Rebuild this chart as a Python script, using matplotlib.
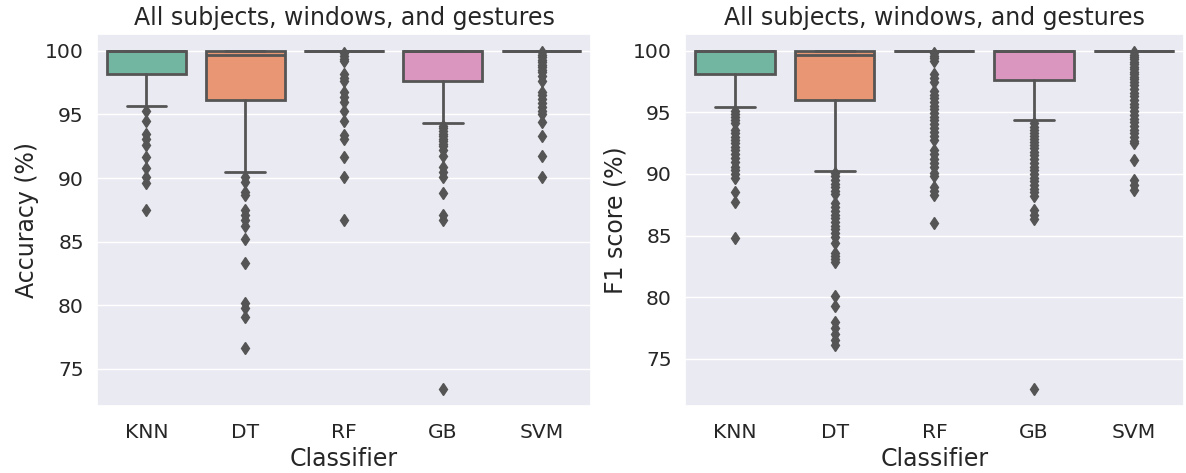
import matplotlib
matplotlib.use("Agg")
import matplotlib.pyplot as plt
import seaborn as sns

sns.set_theme(style="darkgrid")
plt.rcParams['font.family'] = ['DejaVu Sans']

classifiers = ['KNN', 'DT', 'RF', 'GB', 'SVM']

# box summaries per classifier: lower whisker, q1, median, q3, upper whisker
acc_whislo = [95.7, 90.5, 100.0, 94.3, 100.0]
acc_q1 = [98.15, 96.15, 100.0, 97.65, 100.0]
acc_med = [100.0, 99.65, 100.0, 100.0, 100.0]
acc_q3 = [100.0, 100.0, 100.0, 100.0, 100.0]
acc_whishi = [100.0, 100.0, 100.0, 100.0, 100.0]
acc_fliers = [
    [95.25, 94.5, 93.5, 93.1, 92.6, 91.65, 90.8, 90.1, 89.6, 87.5],
    [90.1, 89.7, 88.9, 88.65, 87.5, 87.1, 86.7, 86.2, 85.2, 83.35, 80.15, 79.8, 79.1, 76.65],
    [99.8, 99.6, 99.4, 99.2, 98.2, 97.9, 97.65, 96.75, 96.35, 95.95, 95.3, 94.5, 93.35, 93.1,
     91.65, 90.1, 86.7],
    [94.1, 93.9, 93.7, 93.5, 93.3, 93.1, 92.9, 92.7, 92.5, 92.2, 91.7, 90.85, 90.45, 90.1,
     88.85, 87.1, 86.7, 73.4],
    [99.9, 99.7, 99.5, 99.3, 99.1, 98.9, 98.7, 98.5, 98.3, 98.05, 97.65, 96.75, 96.5, 96.2,
     95.9, 95.6, 95.3, 95.05, 94.4, 93.3, 91.7, 90.1],
]

f1_whislo = [95.45, 90.25, 100.0, 94.35, 100.0]
f1_q1 = [98.15, 96.0, 100.0, 97.6, 100.0]
f1_med = [100.0, 99.65, 100.0, 100.0, 100.0]
f1_q3 = [100.0, 100.0, 100.0, 100.0, 100.0]
f1_whishi = [100.0, 100.0, 100.0, 100.0, 100.0]
f1_fliers = [
    [95.15, 94.9, 94.6, 94.35, 94.1, 93.55, 93.3, 93.0, 92.75, 92.5, 92.2, 91.95, 91.6, 91.3,
     91.0, 90.6, 90.3, 90.0, 89.65, 88.5, 87.7, 84.8],
    [90.05, 89.8, 89.5, 89.2, 88.9, 88.6, 88.4, 87.65, 87.3, 87.0, 86.7, 86.4, 86.1, 85.8,
     85.5, 85.2, 84.9, 84.4, 83.6, 83.35, 83.1, 82.85, 80.1, 79.3, 77.95, 77.5, 77.0, 76.5,
     76.1],
    [99.8, 99.6, 99.4, 99.2, 98.1, 97.8, 97.45, 96.75, 96.45, 96.15, 95.85, 95.55, 95.25,
     94.95, 94.65, 94.35, 94.05, 93.75, 93.4, 93.1, 92.75, 91.95, 91.6, 91.25, 90.9, 90.6,
     90.05, 89.8, 88.95, 88.6, 88.3, 86.0],
    [94.1, 93.85, 93.6, 93.35, 93.1, 92.85, 92.6, 92.35, 92.1, 91.8, 91.5, 91.2, 90.9, 90.6,
     90.3, 90.0, 89.7, 89.4, 89.1, 88.8, 88.5, 88.2, 87.1, 86.7, 86.3, 72.55],
    [99.9, 99.7, 99.5, 99.3, 99.1, 98.9, 98.7, 98.5, 98.3, 98.1, 97.9, 97.7, 97.5, 97.2,
     96.9, 96.6, 96.3, 96.0, 95.7, 95.4, 95.1, 94.8, 94.5, 94.2, 93.9, 93.6, 93.3, 93.0,
     92.7, 92.5, 91.15, 89.5, 89.1, 88.7],
]

palette = sns.color_palette('Set2', len(classifiers), desat=0.75)
line_color = '#555555'


def make_stats(whislo, q1, med, q3, whishi, fliers):
    stats = []
    for i in range(len(classifiers)):
        stats.append({'whislo': whislo[i], 'q1': q1[i], 'med': med[i], 'q3': q3[i],
                      'whishi': whishi[i], 'fliers': fliers[i], 'label': classifiers[i]})
    return stats


def draw_panel(ax, stats, ylabel):
    bp = ax.bxp(stats, positions=range(len(classifiers)), widths=0.8, patch_artist=True,
                showfliers=True, capwidths=0.4,
                boxprops=dict(edgecolor=line_color, linewidth=2),
                whiskerprops=dict(color=line_color, linewidth=2),
                capprops=dict(color=line_color, linewidth=2),
                medianprops=dict(color=line_color, linewidth=2),
                flierprops=dict(marker='d', markersize=6, markerfacecolor=line_color,
                                markeredgecolor=line_color, linestyle='none'))
    for patch, color in zip(bp['boxes'], palette):
        patch.set_facecolor(color)
    ax.set_xlim(-0.5, len(classifiers) - 0.5)
    ax.set_xticks(range(len(classifiers)))
    ax.set_xticklabels(classifiers)
    ax.grid(axis='x', visible=False)
    ax.tick_params(labelsize=14.6)
    ax.tick_params(axis='x', pad=6)
    ax.set_xlabel('Classifier', fontsize=17, labelpad=4)
    ax.set_ylabel(ylabel, fontsize=17)
    ax.set_title('All subjects, windows, and gestures', fontsize=17, pad=6.5)


fig = plt.figure(figsize=(11.86, 4.73), dpi=100)
ax1 = fig.add_axes([0.0818, 0.1416, 0.4165, 0.7866])
ax2 = fig.add_axes([0.5776, 0.1416, 0.4204, 0.7866])

draw_panel(ax1, make_stats(acc_whislo, acc_q1, acc_med, acc_q3, acc_whishi, acc_fliers),
           'Accuracy (%)')
ax1.set_ylim(72.07, 101.33)
ax1.set_yticks([75, 80, 85, 90, 95, 100])

draw_panel(ax2, make_stats(f1_whislo, f1_q1, f1_med, f1_q3, f1_whishi, f1_fliers),
           'F1 score (%)')
ax2.set_ylim(71.15, 101.37)
ax2.set_yticks([75, 80, 85, 90, 95, 100])

fig.savefig('out.png', dpi=100)
